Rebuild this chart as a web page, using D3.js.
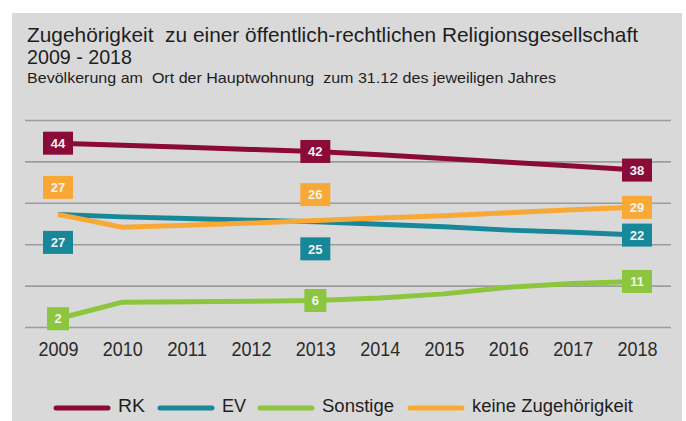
<!DOCTYPE html>
<html>
<head>
<meta charset="utf-8">
<script src="https://cdn.jsdelivr.net/npm/d3@7"></script>
<style>
  html, body { margin: 0; padding: 0; background: #fff; }
  svg { display: block; font-family: "Liberation Sans", Arial, sans-serif; }
  text { white-space: pre; }
</style>
</head>
<body>
<svg id="chart" width="686" height="421"></svg>
<script>
(function () {
  'use strict';

  /* Daten (Prozent der Bevölkerung) */
  var years    = [2009, 2010, 2011, 2012, 2013, 2014, 2015, 2016, 2017, 2018];
  var rk       = [44.4, 43.9, 43.4, 42.9, 42.4, 41.6, 40.7, 39.8, 38.9, 37.9];
  var ev       = [27.2, 26.6, 26.2, 25.8, 25.4, 24.8, 24.2, 23.4, 22.9, 22.2];
  var sonstige = [2.0, 6.0, 6.1, 6.2, 6.4, 7.0, 8.0, 9.6, 10.5, 11.0];
  var keine    = [27.2, 24.1, 24.6, 25.1, 25.7, 26.3, 26.9, 27.6, 28.3, 28.9];

  var seriesNames = ['RK', 'EV', 'Sonstige', 'keine Zugehörigkeit'];
  var labelYears  = [2009, 2013, 2018];
  var rkLabels    = [44, 42, 38];
  var evLabels    = [27, 25, 22];
  var soLabels    = [2, 6, 11];
  var keLabels    = [27, 26, 29];
  var gridTicks   = [0, 10, 20, 30, 40, 50];

  var colors = ['#8a0b38', '#17879a', '#8cc63e', '#f8a935'];

  /* Kästchen, die nicht auf der Linie sitzen (Versatz in px) */
  var boxShift = [
    [0, 0, 0],
    [28, 27, 0],
    [0, 0, 0],
    [-27, -26, 0]
  ];

  var series = [
    { name: seriesNames[0], values: rk,       labels: rkLabels },
    { name: seriesNames[1], values: ev,       labels: evLabels },
    { name: seriesNames[2], values: sonstige, labels: soLabels },
    { name: seriesNames[3], values: keine,    labels: keLabels }
  ];

  var svg = d3.select('#chart');

  /* Hintergrund */
  svg.append('rect')
    .attr('x', 12).attr('y', 13)
    .attr('width', 670).attr('height', 408)
    .attr('fill', '#d9d9d9');

  /* Titel (schmale Schrift nachgebildet über textLength) */
  var title = svg.append('g').attr('fill', '#1e1e1e');
  title.append('text').attr('x', 27).attr('y', 42)
    .attr('font-size', 21)
    .attr('textLength', 611).attr('lengthAdjust', 'spacingAndGlyphs')
    .text('Zugehörigkeit  zu einer öffentlich-rechtlichen Religionsgesellschaft');
  title.append('text').attr('x', 27).attr('y', 64)
    .attr('font-size', 21)
    .attr('textLength', 105).attr('lengthAdjust', 'spacingAndGlyphs')
    .text('2009 - 2018');
  title.append('text').attr('x', 27).attr('y', 83)
    .attr('font-size', 15)
    .attr('textLength', 529).attr('lengthAdjust', 'spacingAndGlyphs')
    .text('Bevölkerung am  Ort der Hauptwohnung  zum 31.12 des jeweiligen Jahres');

  /* Skalen */
  var x = d3.scaleLinear().domain([2009, 2018]).range([58, 637]);
  var y = d3.scaleLinear().domain([0, 50]).range([327, 120]);

  /* Gitterlinien */
  var grid = svg.append('g')
    .attr('transform', 'translate(25,0)')
    .call(d3.axisLeft(y).tickValues(gridTicks).tickSize(-646).tickFormat(''));
  grid.select('.domain').remove();
  grid.selectAll('.tick line').attr('stroke', '#9c9c9c').attr('stroke-width', 1.6);

  /* x-Achse */
  var xAxis = svg.append('g')
    .attr('transform', 'translate(0,356)')
    .call(d3.axisBottom(x).tickValues(years).tickSize(0).tickPadding(0).tickFormat(d3.format('d')));
  xAxis.select('.domain').remove();
  xAxis.selectAll('text')
    .attr('dy', 0)
    .attr('font-family', '"Liberation Sans", Arial, sans-serif')
    .attr('font-size', 20)
    .attr('textLength', 40).attr('lengthAdjust', 'spacingAndGlyphs')
    .attr('fill', '#2b2b2b');

  /* Linien */
  var line = d3.line()
    .x(function (d, i) { return x(years[i]); })
    .y(function (d) { return y(d); });

  svg.append('g').selectAll('path')
    .data(series)
    .enter().append('path')
    .attr('d', function (s) { return line(s.values); })
    .attr('fill', 'none')
    .attr('stroke', function (s, i) { return colors[i]; })
    .attr('stroke-width', 5)
    .attr('stroke-linejoin', 'round')
    .attr('stroke-linecap', 'butt');

  /* Wert-Kästchen */
  var boxes = [];
  series.forEach(function (s, si) {
    labelYears.forEach(function (yr, li) {
      var v = s.values[years.indexOf(yr)];
      boxes.push({
        cx: x(yr),
        cy: y(v) + boxShift[si][li],
        text: String(s.labels[li]),
        color: colors[si]
      });
    });
  });

  var bg = svg.append('g').selectAll('g')
    .data(boxes)
    .enter().append('g')
    .attr('transform', function (d) { return 'translate(' + d.cx + ',' + d.cy + ')'; });
  bg.append('rect')
    .attr('x', function (d) { return -(7 + 4 * d.text.length); })
    .attr('y', -11.5)
    .attr('width', function (d) { return 14 + 8 * d.text.length; })
    .attr('height', 23)
    .attr('fill', function (d) { return d.color; });
  bg.append('text')
    .attr('text-anchor', 'middle')
    .attr('dy', '0.36em')
    .attr('font-size', 13)
    .attr('font-weight', 'bold')
    .attr('fill', '#f2f2f2')
    .text(function (d) { return d.text; });

  /* Legende */
  var legendX    = [54, 158, 258, 408];
  var legendText = [27, 24, 72, 161];
  var legend = svg.append('g')
    .selectAll('g')
    .data(series)
    .enter().append('g')
    .attr('transform', function (d, i) { return 'translate(' + legendX[i] + ',408)'; });
  legend.append('line')
    .attr('x1', 2).attr('x2', 54)
    .attr('stroke', function (d, i) { return colors[i]; })
    .attr('stroke-width', 5)
    .attr('stroke-linecap', 'round');
  legend.append('text')
    .attr('x', 64)
    .attr('y', 4)
    .attr('font-size', 18)
    .attr('textLength', function (d, i) { return legendText[i]; })
    .attr('lengthAdjust', 'spacingAndGlyphs')
    .attr('fill', '#1e1e1e')
    .text(function (d) { return d.name; });
})();
</script>
</body>
</html>
